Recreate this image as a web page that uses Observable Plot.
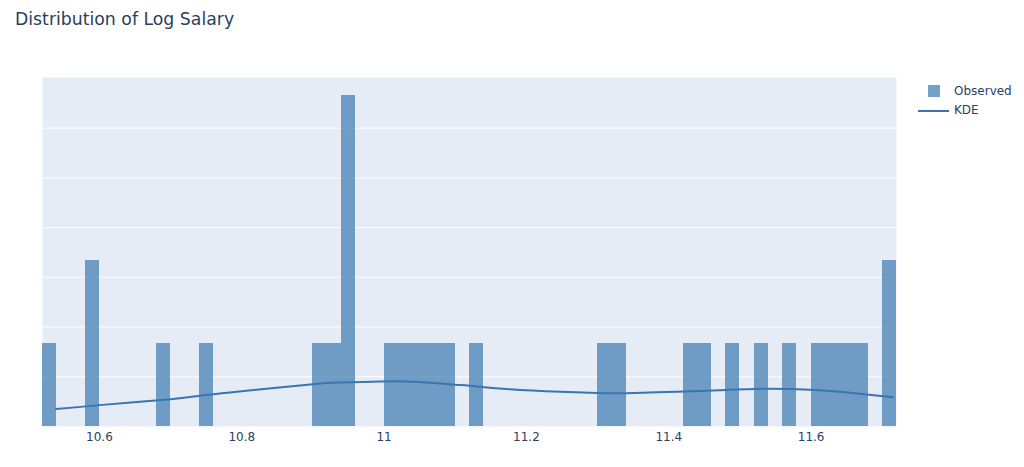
<!DOCTYPE html>
<html>
<head>
<meta charset="utf-8">
<script src="https://cdn.jsdelivr.net/npm/d3@7"></script>
<script src="https://cdn.jsdelivr.net/npm/@observablehq/plot@0.6"></script>
<style>
  body { margin: 0; background: #fff; font-family: "DejaVu Sans", Verdana, Arial, sans-serif; }
  #wrap { position: relative; width: 1024px; height: 467px; }
  #title { position: absolute; left: 15px; top: 9px; font-size: 17.3px; color: #2a3f5f; white-space: nowrap; }
  .leg { position: absolute; font-size: 12px; color: #2a3f5f; white-space: nowrap; }
  .sw { position: absolute; }
</style>
</head>
<body>
<div id="wrap">
  <div id="chart"></div>
  <div id="title">Distribution of Log Salary</div>
  <div class="sw" id="sw1" style="left:928px; top:85px; width:12px; height:12px;"></div>
  <div class="leg" style="left:954px; top:84px;">Observed</div>
  <div class="sw" id="sw2" style="left:918px; top:110px; width:31px; height:2px;"></div>
  <div class="leg" style="left:954px; top:103px;">KDE</div>
</div>
<script>
// Histogram bins (left edges), counts, bin width
const binLeft = [10.52, 10.58, 10.68, 10.74, 10.90, 10.92, 10.94, 11.00, 11.02, 11.04, 11.06, 11.08, 11.12,
                 11.30, 11.32, 11.42, 11.44, 11.48, 11.52, 11.56, 11.60, 11.62, 11.64, 11.66, 11.70];
const binCounts = [1, 2, 1, 1, 1, 1, 4, 1, 1, 1, 1, 1, 1,
                   1, 1, 1, 1, 1, 1, 1, 1, 1, 1, 1, 2];
const binWidth = 0.02;

// KDE curve (probability density)
const kdeX = [10.539, 10.60, 10.70, 10.742, 10.80, 10.90, 10.938, 10.995, 11.03, 11.065, 11.10, 11.121,
              11.177, 11.248, 11.30, 11.341, 11.412, 11.47, 11.533, 11.599, 11.655, 11.715];
const kdeY = [0.35, 0.43, 0.55, 0.62, 0.71, 0.85, 0.885, 0.905, 0.905, 0.88, 0.84, 0.82,
              0.75, 0.70, 0.675, 0.67, 0.70, 0.73, 0.76, 0.74, 0.68, 0.59];

const xTicks = [10.6, 10.8, 11, 11.2, 11.4, 11.6];
const yGrid = [1, 2, 3, 4, 5, 6];

const barColor = "#4682b4";
const barOpacity = 0.75;
const lineColor = "#3b75af";

document.getElementById("sw1").style.background = barColor;
document.getElementById("sw1").style.opacity = barOpacity;
document.getElementById("sw2").style.background = lineColor;

const N = d3.sum(binCounts);
const bins = binLeft.map((x0, i) => ({
  x0, x1: x0 + binWidth, density: binCounts[i] / (N * binWidth)
}));
const kde = kdeX.map((x, i) => ({x, y: kdeY[i]}));

const chart = Plot.plot({
  width: 1024,
  height: 467,
  marginLeft: 42,
  marginRight: 128,
  marginTop: 77,
  marginBottom: 41,
  style: { fontFamily: "'DejaVu Sans', Verdana, Arial, sans-serif", fontSize: "12px", color: "#2a3f5f", background: "transparent" },
  x: { domain: [10.52, 11.72], label: null },
  y: { domain: [0, 7.02], axis: null },
  marks: [
    Plot.frame({ fill: "#E5ECF6", stroke: null }),
    Plot.ruleY(yGrid, { stroke: "#ffffff", strokeWidth: 1 }),
    Plot.rectY(bins, { x1: "x0", x2: "x1", y: "density", fill: barColor, fillOpacity: barOpacity, shapeRendering: "crispEdges" }),
    Plot.line(kde, { x: "x", y: "y", stroke: lineColor, strokeWidth: 2, curve: "natural" }),
    Plot.axisX({ ticks: xTicks, tickFormat: d => String(d), tickSize: 0, tickPadding: 6, fill: "#2a3f5f", fontSize: 12, label: null })
  ]
});
document.getElementById("chart").appendChild(chart);
</script>
</body>
</html>
